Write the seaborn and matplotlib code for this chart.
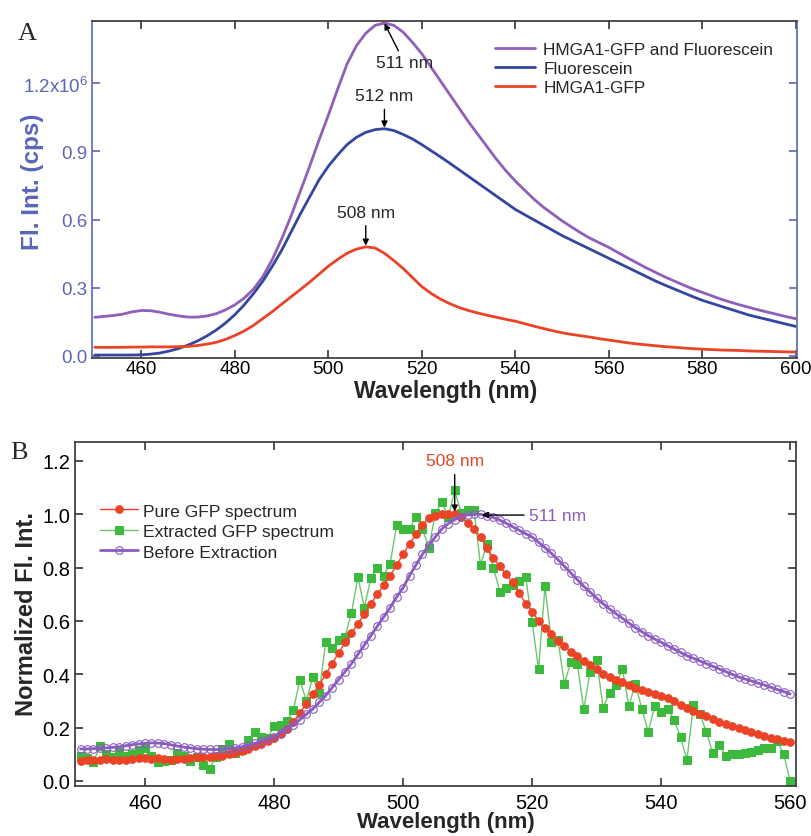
import numpy as np
import pandas as pd
import matplotlib
matplotlib.use("Agg")
import matplotlib.pyplot as plt
import seaborn as sns

# ---------------- Panel A: raw spectra (x10^6 cps) ----------------
wl_a = np.arange(450, 601, 2)

mix_a = [0.170, 0.174, 0.178, 0.184, 0.194, 0.200, 0.199, 0.192, 0.183, 0.176,
         0.171, 0.171, 0.176, 0.186, 0.203, 0.225, 0.255, 0.295, 0.350, 0.425,
         0.515, 0.615, 0.725, 0.835, 0.950, 1.060, 1.175, 1.285, 1.365, 1.420,
         1.455, 1.465, 1.455, 1.425, 1.380, 1.330, 1.270, 1.210, 1.150, 1.090,
         1.030, 0.975, 0.920, 0.865, 0.815, 0.770, 0.730, 0.690, 0.655, 0.625,
         0.595, 0.568, 0.542, 0.518, 0.498, 0.478, 0.455, 0.432, 0.410, 0.388,
         0.368, 0.348, 0.330, 0.312, 0.295, 0.280, 0.265, 0.250, 0.237, 0.225,
         0.214, 0.203, 0.193, 0.183, 0.173, 0.164]

fluo_a = [0.004, 0.004, 0.004, 0.004, 0.004, 0.005, 0.008, 0.013, 0.022, 0.033,
          0.048, 0.066, 0.088, 0.114, 0.145, 0.182, 0.225, 0.275, 0.330, 0.395,
          0.465, 0.545, 0.625, 0.700, 0.775, 0.835, 0.885, 0.930, 0.962, 0.984,
          0.996, 1.000, 0.992, 0.975, 0.955, 0.930, 0.903, 0.876, 0.848, 0.819,
          0.790, 0.761, 0.732, 0.703, 0.674, 0.645, 0.622, 0.599, 0.576, 0.553,
          0.530, 0.510, 0.490, 0.470, 0.450, 0.430, 0.410, 0.390, 0.370, 0.350,
          0.330, 0.312, 0.295, 0.278, 0.261, 0.245, 0.232, 0.219, 0.206, 0.193,
          0.180, 0.170, 0.160, 0.150, 0.140, 0.130]

gfp_a = [0.038, 0.038, 0.038, 0.038, 0.039, 0.039, 0.040, 0.040, 0.040, 0.041,
         0.042, 0.046, 0.052, 0.060, 0.073, 0.090, 0.110, 0.135, 0.165, 0.195,
         0.228, 0.260, 0.292, 0.325, 0.360, 0.395, 0.425, 0.452, 0.470, 0.480,
         0.475, 0.452, 0.420, 0.385, 0.345, 0.305, 0.275, 0.250, 0.230, 0.213,
         0.200, 0.189, 0.179, 0.170, 0.161, 0.153, 0.142, 0.131, 0.121, 0.111,
         0.102, 0.095, 0.089, 0.083, 0.076, 0.070, 0.064, 0.058, 0.053, 0.049,
         0.045, 0.041, 0.038, 0.035, 0.032, 0.030, 0.028, 0.026, 0.025, 0.024,
         0.022, 0.021, 0.020, 0.019, 0.018, 0.017]

# ---------------- Panel B: normalized spectra ----------------
wl_b = np.arange(450, 561, 1)

pure_gfp = [0.075, 0.080, 0.078, 0.080, 0.082, 0.080, 0.078, 0.080, 0.082, 0.085,
            0.085, 0.082, 0.085, 0.083, 0.080, 0.082, 0.083, 0.085, 0.088, 0.090,
            0.088, 0.092, 0.095, 0.100, 0.105, 0.112, 0.120, 0.130, 0.140, 0.150,
            0.162, 0.176, 0.195, 0.222, 0.255, 0.290, 0.325, 0.360, 0.400, 0.440,
            0.480, 0.520, 0.555, 0.590, 0.625, 0.665, 0.700, 0.735, 0.770, 0.810,
            0.850, 0.890, 0.925, 0.960, 0.985, 0.995, 1.000, 1.000, 1.000, 0.988,
            0.968, 0.945, 0.915, 0.875, 0.835, 0.805, 0.775, 0.745, 0.705, 0.665,
            0.635, 0.600, 0.575, 0.550, 0.525, 0.505, 0.485, 0.470, 0.450, 0.435,
            0.420, 0.400, 0.390, 0.380, 0.370, 0.360, 0.350, 0.340, 0.333, 0.326,
            0.318, 0.310, 0.298, 0.285, 0.272, 0.262, 0.252, 0.242, 0.232, 0.222,
            0.213, 0.205, 0.197, 0.190, 0.183, 0.176, 0.168, 0.162, 0.156, 0.150, 0.145]

extracted_gfp = [0.095, 0.085, 0.070, 0.130, 0.100, 0.090, 0.110, 0.095, 0.100, 0.115,
                 0.125, 0.095, 0.070, 0.075, 0.080, 0.105, 0.095, 0.075, 0.090, 0.060,
                 0.045, 0.090, 0.120, 0.140, 0.105, 0.115, 0.155, 0.185, 0.165, 0.160,
                 0.205, 0.210, 0.225, 0.265, 0.380, 0.300, 0.390, 0.330, 0.520, 0.500,
                 0.530, 0.540, 0.630, 0.765, 0.650, 0.760, 0.800, 0.770, 0.815, 0.960,
                 0.945, 0.945, 0.990, 0.945, 0.875, 1.005, 1.045, 0.990, 1.090, 1.005,
                 1.015, 1.015, 0.810, 0.890, 0.800, 0.710, 0.725, 0.735, 0.750, 0.765,
                 0.595, 0.420, 0.730, 0.520, 0.530, 0.365, 0.445, 0.440, 0.270, 0.410,
                 0.455, 0.275, 0.330, 0.360, 0.420, 0.280, 0.365, 0.270, 0.185, 0.280,
                 0.260, 0.270, 0.230, 0.165, 0.080, 0.285, 0.250, 0.185, 0.105, 0.135,
                 0.095, 0.100, 0.100, 0.105, 0.110, 0.115, 0.125, 0.125, 0.150, 0.100, 0.000]

before_extraction = [0.120, 0.120, 0.121, 0.122, 0.124, 0.126, 0.128, 0.132, 0.136, 0.139,
                     0.141, 0.143, 0.142, 0.140, 0.136, 0.131, 0.127, 0.124, 0.121, 0.119,
                     0.118, 0.118, 0.118, 0.120, 0.124, 0.128, 0.134, 0.141, 0.149, 0.157,
                     0.166, 0.180, 0.195, 0.210, 0.230, 0.250, 0.270, 0.295, 0.320, 0.350,
                     0.380, 0.410, 0.440, 0.475, 0.510, 0.545, 0.580, 0.615, 0.650, 0.690,
                     0.725, 0.770, 0.810, 0.850, 0.885, 0.915, 0.945, 0.965, 0.980, 0.990,
                     0.998, 1.000, 1.000, 0.995, 0.988, 0.978, 0.966, 0.953, 0.940, 0.927,
                     0.915, 0.895, 0.875, 0.853, 0.830, 0.805, 0.780, 0.755, 0.730, 0.708,
                     0.685, 0.665, 0.645, 0.627, 0.610, 0.592, 0.575, 0.560, 0.545, 0.532,
                     0.520, 0.507, 0.495, 0.482, 0.470, 0.460, 0.450, 0.440, 0.430, 0.420,
                     0.410, 0.400, 0.390, 0.382, 0.375, 0.367, 0.360, 0.351, 0.343, 0.335, 0.326]

sns.set_style("ticks")
plt.rcParams['font.family'] = ['Liberation Sans', 'DejaVu Sans']
plt.rcParams['mathtext.fontset'] = 'custom'
plt.rcParams['mathtext.rm'] = 'Liberation Sans'

PURPLE = '#8f5fba'
BLUE = '#3446a0'
RED = '#ea4326'
AXBLUE = '#5a66b8'
GREEN = '#3dba3d'
BPURPLE = '#8a5cc0'

fig = plt.figure(figsize=(8.11, 8.37), dpi=100)

# ================= Panel A =================
ax1 = fig.add_axes([0.1134, 0.5711, 0.8693, 0.4026])
sns.lineplot(x=wl_a, y=mix_a, color=PURPLE, linewidth=2, label='HMGA1-GFP and Fluorescein', ax=ax1)
sns.lineplot(x=wl_a, y=fluo_a, color=BLUE, linewidth=2, label='Fluorescein', ax=ax1)
sns.lineplot(x=wl_a, y=gfp_a, color=RED, linewidth=2, label='HMGA1-GFP', ax=ax1)

ax1.set_xlim(449.4, 600.3)
ax1.set_ylim(-0.009, 1.474)
ax1.set_xticks([460, 480, 500, 520, 540, 560, 580, 600])
ax1.set_yticks([0.0, 0.3, 0.6, 0.9, 1.2])
ax1.set_yticklabels(['0.0', '0.3', '0.6', '0.9', r'1.2x10$^{6}$'])
ax1.tick_params(axis='both', direction='in', length=6, width=1.2, labelsize=13.5,
                top=True, right=True)
ax1.tick_params(axis='y', colors=AXBLUE, labelcolor=AXBLUE, pad=3)
ax1.tick_params(axis='x', colors='#333333', labelcolor='black', pad=1.5)
ax1.spines['left'].set_color(AXBLUE)
ax1.spines['right'].set_color(AXBLUE)
for s in ['top', 'bottom']:
    ax1.spines[s].set_color('#333333')
for s in ax1.spines.values():
    s.set_linewidth(1.2)
ax1.set_xlabel('Wavelength (nm)', fontsize=16.5, fontweight='bold')
ax1.set_ylabel('Fl. Int. (cps)', fontsize=17.5, fontweight='bold', color=AXBLUE)
ax1.xaxis.set_label_coords(0.502, -0.062)
ax1.yaxis.set_label_coords(-0.068, 0.525)
ax1.legend(loc='upper left', bbox_to_anchor=(0.572, 0.937), frameon=False, fontsize=12.4,
           borderpad=0, borderaxespad=0,
           handlelength=2.3, handletextpad=0.5, labelspacing=0.22)

arr = dict(arrowstyle='-|>', color='black', lw=1, mutation_scale=9, shrinkA=2, shrinkB=0)
ax1.annotate('511 nm', xy=(512, 1.464), xytext=(516.3, 1.29), fontsize=12.5,
             ha='center', va='center', arrowprops=dict(arr, shrinkA=1))
ax1.annotate('512 nm', xy=(512, 1.005), xytext=(512, 1.145), fontsize=12.5,
             ha='center', va='center', arrowprops=arr)
ax1.annotate('508 nm', xy=(508, 0.485), xytext=(508, 0.633), fontsize=12.5,
             ha='center', va='center', arrowprops=arr)
fig.text(0.022, 0.952, 'A', fontsize=19, family='Liberation Serif')

# ================= Panel B =================
ax2 = fig.add_axes([0.0925, 0.0597, 0.889, 0.411])
sns.lineplot(x=wl_b, y=extracted_gfp, color='#6cc76c', linewidth=1, marker='s',
             markersize=5.5, markerfacecolor=GREEN, markeredgecolor=GREEN,
             label='Extracted GFP spectrum', ax=ax2, zorder=2)
sns.lineplot(x=wl_b, y=pure_gfp, color=RED, linewidth=1, marker='o',
             markersize=5.5, markerfacecolor=RED, markeredgecolor=RED,
             label='Pure GFP spectrum', ax=ax2, zorder=3)
sns.lineplot(x=wl_b, y=before_extraction, color=BPURPLE, linewidth=2, marker='o',
             markersize=5.5, markerfacecolor='none', markeredgecolor=BPURPLE,
             markeredgewidth=0.8, label='Before Extraction', ax=ax2, zorder=4)

ax2.set_xlim(449.15, 560.9)
ax2.set_ylim(-0.019, 1.271)
ax2.set_xticks([460, 480, 500, 520, 540, 560])
ax2.set_yticks([0.0, 0.2, 0.4, 0.6, 0.8, 1.0, 1.2])
ax2.set_yticklabels(['0.0', '0.2', '0.4', '0.6', '0.8', '1.0', '1.2'])
ax2.tick_params(axis='both', direction='in', length=6, width=1.2, labelsize=14.5,
                top=True, right=True, colors='#333333', labelcolor='black')
ax2.tick_params(axis='x', pad=5)
for s in ax2.spines.values():
    s.set_linewidth(1.2)
    s.set_color('#333333')
ax2.set_xlabel('Wavelength (nm)', fontsize=16, fontweight='bold')
ax2.set_ylabel('Normalized Fl. Int.', fontsize=17, fontweight='bold')
ax2.xaxis.set_label_coords(0.515, -0.073)
ax2.yaxis.set_label_coords(-0.052, 0.503)

handles, labels = ax2.get_legend_handles_labels()
order = [labels.index('Pure GFP spectrum'), labels.index('Extracted GFP spectrum'),
         labels.index('Before Extraction')]
ax2.legend([handles[i] for i in order], [labels[i] for i in order], loc='upper left',
           bbox_to_anchor=(0.034, 0.822), frameon=False, fontsize=12.6,
           borderpad=0, borderaxespad=0,
           handlelength=2.2, handletextpad=0.3, labelspacing=0.3)

ax2.annotate('508 nm', xy=(508, 1.01), xytext=(508, 1.2), fontsize=12.5, color=RED,
             ha='center', va='center', zorder=10, arrowprops=arr)
ax2.annotate('511 nm', xy=(512.2, 0.997), xytext=(523.9, 0.997), fontsize=12.5,
             color=BPURPLE, ha='center', va='center', zorder=10,
             arrowprops=dict(arr, shrinkA=1))
fig.text(0.012, 0.452, 'B', fontsize=19, family='Liberation Serif')

fig.savefig('out.png', dpi=100)
